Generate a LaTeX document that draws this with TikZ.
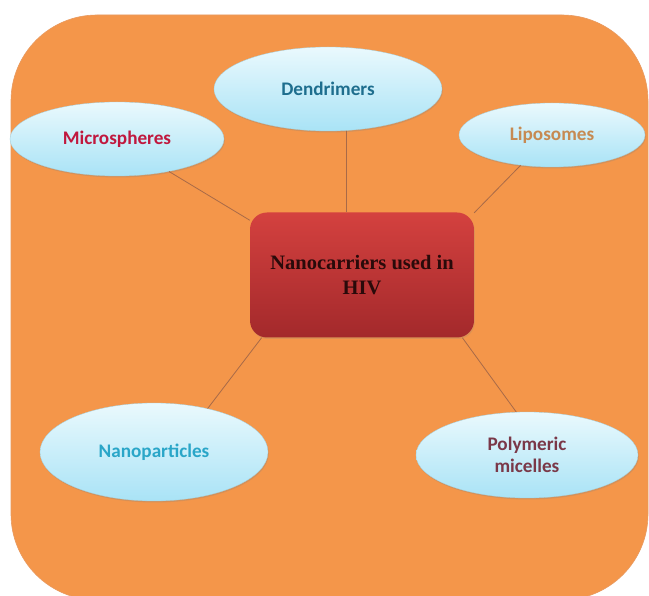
\documentclass[tikz,border=0pt]{standalone}
\usepackage{fontspec}
\setmainfont{Liberation Serif}
\newfontfamily\calib{Carlito}
\usetikzlibrary{shapes.geometric,shadows}
\definecolor{bgorange}{HTML}{F4964A}
\definecolor{bgedge}{HTML}{E89A60}
\definecolor{bubtop}{HTML}{EAF9FD}
\definecolor{bubbot}{HTML}{A9E3F6}
\definecolor{hubtop}{HTML}{D4413F}
\definecolor{hubbot}{HTML}{A3292B}
\definecolor{hubtext}{HTML}{2A0A0A}
\definecolor{linecol}{HTML}{A86A48}
\definecolor{cdend}{HTML}{1E6E8E}
\definecolor{cmicro}{HTML}{C0183E}
\definecolor{clipo}{HTML}{C68A52}
\definecolor{cnano}{HTML}{2AA6C8}
\definecolor{cpoly}{HTML}{7A3848}
\begin{document}
\begin{tikzpicture}[x=1pt,y=-1pt,
  bubble/.style={ellipse, inner sep=0pt, top color=bubtop, bottom color=bubbot,
    draw=bubbot!80!gray, line width=0.3pt,
    drop shadow={opacity=0.25, shadow xshift=0.8pt, shadow yshift=-1.5pt},
    font=\calib\bfseries\fontsize{19.2}{22}\selectfont, align=center},
  hubbox/.style={rectangle, rounded corners=17pt, inner sep=0pt,
    top color=hubtop, bottom color=hubbot,
    minimum width=224pt, minimum height=125pt,
    drop shadow={opacity=0.2, shadow xshift=0.8pt, shadow yshift=-1.5pt},
    font=\bfseries\fontsize{20.5}{25}\selectfont, text=hubtext, align=center},
  conn/.style={draw=linecol, line width=0.8pt}]
\useasboundingbox (0,0) rectangle (649,596);
\fill[white] (0,0) rectangle (649,596);
\fill[bgorange, draw=bgedge, line width=0.6pt, rounded corners=86pt] (11,15) rectangle (648,600);
\node[hubbox] (hub) at (362,275) {Nanocarriers used in\\HIV};
\node[bubble, minimum width=228pt, minimum height=84pt, text=cdend] (dend) at (328,89) {Dendrimers};
\node[bubble, minimum width=214pt, minimum height=74pt, text=cmicro] (micro) at (117,139) {Microspheres};
\node[bubble, minimum width=186pt, minimum height=64pt, text=clipo] (lipo) at (552,135) {Liposomes};
\node[bubble, minimum width=228pt, minimum height=98pt, text=cnano] (nano) at (154,452) {Nanoparticles};
\node[bubble, minimum width=222pt, minimum height=86pt, text=cpoly] (poly) at (527,455) {Polymeric\\micelles};
\draw[conn] (dend.-66) -- (dend.-66 |- hub.north);
\draw[conn] (micro.-32) -- (hub.154);
\draw[conn] (lipo.224) -- (hub.29);
\draw[conn] (nano.39) -- (hub.212);
\draw[conn] (poly.104) -- (hub.-32);
\end{tikzpicture}
\end{document}
